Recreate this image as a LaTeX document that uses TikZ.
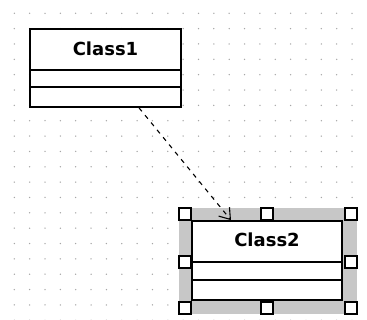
\documentclass[tikz,border=0pt]{standalone}
\usepackage{fontspec}
\newfontfamily\boxfont{DejaVu Sans}
\usetikzlibrary{arrows.meta}
\tikzset{
  classbox/.style={draw=black, line width=1.7pt, fill=white, inner sep=0pt},
  divider/.style={draw=black, line width=1.6pt},
  classname/.style={anchor=base, inner sep=0pt, font=\boxfont\bfseries\fontsize{18pt}{18pt}\selectfont},
  dep/.style={draw=black, line width=1.1pt, dash pattern=on 4.5pt off 5pt, -{Straight Barb[length=10pt,width=14pt,line width=1.1pt]}},
  handle/.style={draw=black, line width=1.5pt, fill=white, minimum size=12pt, inner sep=0pt},
  gdot/.style={fill=black!35},
  selarea/.style={fill=black!22},
}
\begin{document}
\begin{tikzpicture}[x=1pt,y=-1pt]
\useasboundingbox[fill=white] (0,0) rectangle (367,320);
% grid of dots
\foreach \i in {0,...,22}{
  \foreach \j in {0,...,20}{
    \fill[gdot] (14.3+15.35*\i, 13.3+15.35*\j) circle (0.75);
  }
}
% Class1
\node[classbox, minimum width=151pt, minimum height=78pt] (c1) at (105.5,68) {};
\draw[divider] ([yshift=-42pt]c1.north west) -- ([yshift=-42pt]c1.north east);
\draw[divider] ([yshift=-59pt]c1.north west) -- ([yshift=-59pt]c1.north east);
\node[classname] (t1) at (105.5,55.5) {Class1};
% selection area of Class2
\fill[selarea] (179,208) rectangle (357,314);
% Class2
\node[classbox, minimum width=150pt, minimum height=79pt] (c2) at (267,260.5) {};
\draw[divider] ([yshift=-42pt]c2.north west) -- ([yshift=-42pt]c2.north east);
\draw[divider] ([yshift=-60pt]c2.north west) -- ([yshift=-60pt]c2.north east);
\node[classname] (t2) at (267,246.5) {Class2};
% handles
\node[handle] (h1) at (185,214) {};
\node[handle] (h2) at (267,214) {};
\node[handle] (h3) at (351,214) {};
\node[handle] (h4) at (185,262) {};
\node[handle] (h5) at (351,262) {};
\node[handle] (h6) at (185,308) {};
\node[handle] (h7) at (267,308) {};
\node[handle] (h8) at (351,308) {};
% dependency
\draw[dep] ([xshift=33.5pt]c1.south) -- ([xshift=-36pt]c2.north);
\end{tikzpicture}
\end{document}
